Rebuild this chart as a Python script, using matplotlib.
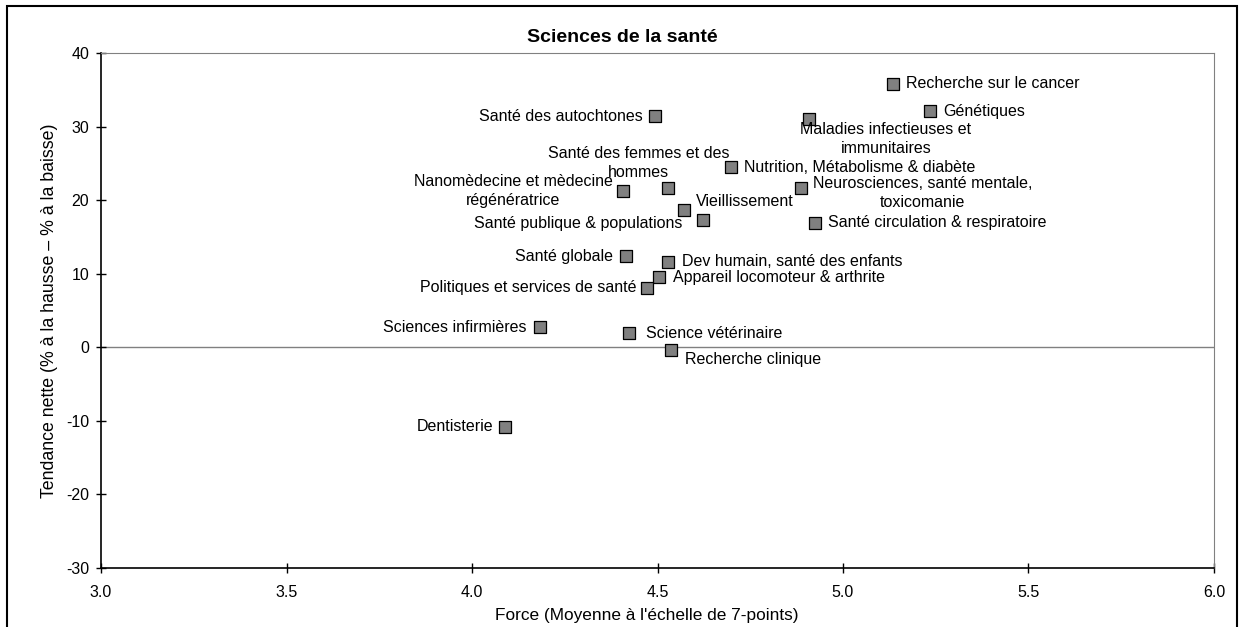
import matplotlib
matplotlib.use("Agg")
import matplotlib.pyplot as plt
from matplotlib.patches import Rectangle

plt.rcParams['font.family'] = ['Liberation Sans', 'DejaVu Sans']
plt.rcParams['axes.unicode_minus'] = False

# data
fields = ["Recherche sur le cancer", "Génétiques", "Maladies infectieuses et\nimmunitaires",
          "Santé des autochtones", "Nutrition, Métabolisme & diabète",
          "Neurosciences, santé mentale,\ntoxicomanie", "Santé des femmes et des\nhommes",
          "Nanomèdecine et mèdecine\nrégénératrice", "Vieillissement", "Santé publique & populations",
          "Santé circulation & respiratoire", "Santé globale", "Dev humain, santé des enfants",
          "Appareil locomoteur & arthrite", "Politiques et services de santé",
          "Sciences infirmières", "Science vétérinaire", "Recherche clinique", "Dentisterie"]
force = [5.135, 5.234, 4.908, 4.494, 4.697, 4.886, 4.527, 4.408, 4.572, 4.622,
         4.925, 4.415, 4.527, 4.503, 4.473, 4.183, 4.424, 4.536, 4.088]
trend = [35.8, 32.1, 31.0, 31.4, 24.5, 21.7, 21.7, 21.2, 18.7, 17.3,
         16.9, 12.4, 11.6, 9.5, 8.1, 2.7, 1.9, -0.4, -10.8]

# label placement (offset in pixels from marker, alignment)
offsets = [(13, 0, 'left'), (13, 0, 'left'), (77, -20, 'center'), (-13, 0, 'right'),
           (13, 0, 'left'), (122, -5, 'center'), (-29, 25, 'center'), (-110, 0, 'center'),
           (12, 8, 'left'), (-20, -4, 'right'), (13, 0, 'left'), (-13, 0, 'right'),
           (14, 0, 'left'), (14, 0, 'left'), (-11, 0, 'right'), (-13, 0, 'right'),
           (17, 0, 'left'), (14, -9, 'left'), (-11, 0, 'right')]

fig = plt.figure(figsize=(12.4, 6.27), dpi=100)
ax = fig.add_axes([0.0815, 0.0941, 0.8975, 0.8214])

fig.patches.append(Rectangle((7 / 1240, -0.01), 1230 / 1240, 1 - 6 / 627 + 0.01,
                             transform=fig.transFigure, fill=False, edgecolor='black',
                             linewidth=1.5))

ax.axhline(0, color='#808080', linewidth=1, zorder=1)
ax.scatter(force, trend, marker='s', s=80, color='#808080', edgecolor='black',
           linewidth=0.9, zorder=3)

for name, x, y, (dx, dy, ha) in zip(fields, force, trend, offsets):
    ax.annotate(name, (x, y), xytext=(dx, dy), textcoords='offset pixels',
                ha=ha, va='center', multialignment='center', fontsize=11.5,
                linespacing=1.35, zorder=4)

ax.set_xlim(3.0, 6.0)
ax.set_ylim(-30, 40)
ax.set_xticks([3.0, 3.5, 4.0, 4.5, 5.0, 5.5, 6.0])
ax.set_xticklabels(["3.0", "3.5", "4.0", "4.5", "5.0", "5.5", "6.0"])
ax.set_yticks(range(-30, 41, 10))
ax.tick_params(direction='inout', length=7, width=1, labelsize=11.5)
ax.tick_params(axis='x', pad=9)
ax.tick_params(axis='y', pad=5)
for side in ['top', 'right']:
    ax.spines[side].set_color('#808080')
for side in ['left', 'bottom']:
    ax.spines[side].set_color('black')
    ax.spines[side].set_linewidth(1.2)

fig.text(622 / 1240, 1 - 37 / 627, "Sciences de la santé", fontsize=14,
         fontweight='bold', ha='center', va='center')
ax.set_xlabel("Force (Moyenne à l'échelle de 7-points)", fontsize=12.4, va='center')
ax.xaxis.set_label_coords(0.4906, -0.093)
ax.set_ylabel("Tendance nette (% à la hausse – % à la baisse)", fontsize=12.8, labelpad=6)

fig.savefig("out.png", dpi=100)
